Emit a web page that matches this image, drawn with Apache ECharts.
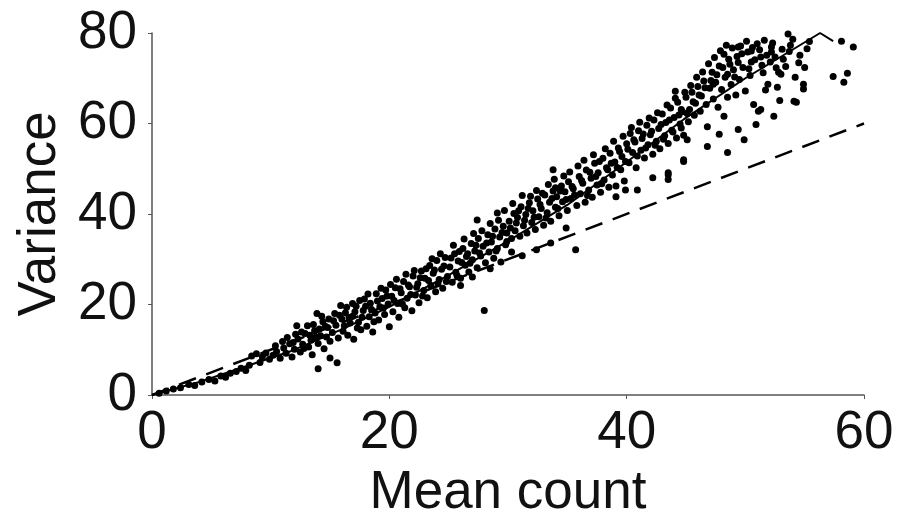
<!DOCTYPE html>
<html>
<head>
<meta charset="utf-8">
<script src="https://cdn.jsdelivr.net/npm/echarts@6/dist/echarts.min.js"></script>
<style>
  html, body { margin: 0; padding: 0; background: #fff; }
  #chart { width: 911px; height: 523px; }
</style>
</head>
<body>
<div id="chart"></div>
<script>
// axis ticks
var xTicks = [0, 20, 40, 60];
var yTicks = [0, 20, 40, 60, 80];

// scatter: [mean count, variance]
var lowPts = [
  [0.6,0.4],[1.2,0.9],[1.8,1.3],[2.4,1.6],[3.1,2.3],[3.6,2.1],[4.2,2.9],[4.8,3.4],[5.3,3.1],
  [5.8,4.2],[6.2,3.9],[6.6,4.8],[7.1,5.2],[7.5,5.9],[7.9,5.4],[8.2,6.6],[8.4,8.6],[8.8,9.1],
  [9.1,7.2],[9.3,8.4],[9.6,9.3],[9.9,7.9],[10.2,8.8],
  [10.5,9.6],[10.8,8.1],[11.1,10.4],[11.3,9.2],[11.6,11.3],[11.8,8.4],[12.0,10.1],[12.2,15.3],
  [12.3,12.4],[12.5,9.5],[12.7,11.2],[12.9,13.6],[13.1,15.3],[13.2,10.6],[13.4,12.1],[13.5,8.9],
  [13.7,14.2],[13.9,18.0],[14.0,11.4],[14.0,5.8],[14.2,13.1],[14.4,16.2],[14.5,10.2],[14.7,12.8],
  [14.8,14.9],[15.0,8.2],[15.0,11.9],[15.4,18.0],[15.6,7.1],[15.9,19.8]
];
var midPts = [
  [15.2,13.8],[15.5,15.4],[15.7,12.6],[16.0,16.8],[16.1,14.1],[16.3,18.2],[16.5,13.2],[16.7,15.9],
  [16.9,17.4],[17.0,12.3],[17.2,19.6],[17.4,16.1],[17.6,14.4],[17.8,18.7],[17.9,21.2],[18.1,15.2],
  [18.3,17.3],[18.4,20.3],[18.6,13.9],[18.8,18.1],[18.9,22.4],[19.1,16.6],[19.2,19.5],[19.4,21.3],
  [19.6,17.8],[19.7,23.2],[19.9,20.1],[20.0,15.1],
  [20.2,21.8],[20.3,18.4],[20.5,23.7],[20.7,20.2],[20.8,17.2],[21.0,22.6],[21.2,25.1],[21.3,19.3],
  [21.5,21.4],[21.7,23.9],[21.9,18.6],[22.0,26.3],[22.2,22.1],[22.4,24.6],[22.5,20.4],[22.7,27.4],
  [22.9,23.1],[23.0,25.8],[23.2,21.5],[23.4,28.6],[23.5,24.2],[23.7,26.9],[23.9,22.8],[24.0,29.7],
  [24.2,25.5],[24.4,27.8],[24.5,23.6],[24.7,30.4],[24.9,26.2],
  [25.1,28.3],[25.3,24.9],[25.5,31.2],[25.6,27.1],[25.8,29.6],[26.0,25.8],[26.2,32.4],[26.4,28.7],
  [26.5,30.6],[26.7,27.2],[26.9,33.5],[27.0,29.9],[27.2,31.8],[27.4,28.1],[27.5,34.6],[27.7,30.7],
  [27.9,32.9],[28.0,18.7],[28.1,29.2],[28.3,35.4],[28.4,31.6],[28.6,33.8],[28.8,30.2],[28.9,36.7],
  [29.1,32.4],[29.3,34.9],[29.4,29.4],[29.6,37.3],[29.8,33.2],[29.9,35.8],
  [26.0,24.2],[27.0,26.1],[28.5,27.9],[30.3,31.6],[31.2,30.8],[32.4,32.1],[33.6,33.6],[27.4,38.7],[29.1,40.2]
];
var upperPts = [
  [30.1,38.4],[30.3,34.6],[30.5,40.1],[30.6,36.3],[30.8,39.2],[31.0,35.1],[31.1,41.6],[31.3,37.4],
  [31.5,39.9],[31.6,35.8],[31.8,42.5],[32.0,38.1],[32.1,40.7],[32.3,36.6],[32.5,43.3],[32.6,39.4],
  [32.8,41.2],[33.0,37.5],[33.1,44.2],[33.3,40.3],[33.5,42.6],[33.6,38.4],[33.8,45.1],[34.0,41.5],
  [34.1,43.8],[34.3,39.6],[34.5,46.2],[34.6,42.7],[34.8,44.9],[35.0,40.8],
  [35.1,47.1],[35.3,43.4],[35.5,45.6],[35.7,32.1],[35.8,41.9],[36.0,48.3],[36.1,44.5],[36.3,46.8],
  [36.5,42.6],[36.6,49.7],[36.8,45.3],[37.0,47.9],[37.1,43.7],[37.3,51.2],[37.5,46.4],[37.6,49.1],
  [37.8,44.8],[38.0,52.3],[38.1,47.5],[38.3,50.2],[38.5,45.9],[38.6,53.4],[38.8,48.6],[39.0,51.5],
  [39.1,46.2],[39.3,54.6],[39.5,49.8],[39.6,52.7],[39.8,47.3],[40.0,55.5],
  [33.8,49.8],[34.0,45.8],[34.9,36.9],[39.1,43.8],[39.9,45.3],[40.9,45.3],[42.2,48.0],[43.5,48.7],
  [43.5,47.6],[44.8,51.6],
  [40.2,51.3],[40.3,57.8],[40.5,53.6],[40.7,55.9],[40.8,50.2],[41.0,58.4],[41.2,54.1],[41.3,56.7],
  [41.5,52.4],[41.7,59.6],[41.8,55.3],[42.0,57.5],[42.2,53.2],[42.3,60.8],[42.5,56.1],[42.7,58.9],
  [42.8,54.4],[43.0,62.1],[43.2,57.3],[43.3,60.2],[43.5,55.6],[43.7,63.4],[43.8,58.5],[44.0,61.3],
  [44.2,56.8],[44.3,64.7],[44.5,59.9],[44.7,62.6],[44.8,57.4],[45.0,65.8],
  [44.1,67.1],[44.6,63.1],[45.1,56.4],[44.8,52.0],[43.5,49.1]
];
var topPts = [
  [45.2,60.4],[45.3,63.1],[45.5,66.9],[45.7,61.8],[45.8,64.5],[46.0,68.2],[46.2,62.7],[46.3,66.1],
  [46.5,69.4],[46.7,64.2],[46.8,59.3],[47.0,67.8],[47.2,71.3],[47.3,65.4],[47.5,69.1],[47.7,63.6],
  [47.8,72.7],[48.0,67.5],[48.2,75.3],[48.3,70.2],[48.5,65.8],[48.7,73.1],[48.8,68.6],[49.0,71.9],
  [49.2,66.3],[49.3,74.8],[49.5,69.7],[49.6,77.1],[49.8,72.4],[50.0,67.2],
  [46.8,54.9],[47.8,57.6],[48.5,53.6],[48.2,61.6],[49.4,58.7],[49.9,56.4],[48.5,70.9],[47.3,68.7],
  [49.4,76.9],[50.5,76.0],
  [50.2,75.8],[50.4,70.6],[50.5,73.6],[50.7,64.2],[50.9,59.8],[51.0,77.6],[51.1,62.7],[51.3,74.7],
  [51.3,63.1],[51.5,71.2],[51.7,67.4],[51.9,68.7],[52.2,75.8],[52.2,76.9],[52.4,61.6],[52.6,72.3],
  [52.7,68.0],[52.9,65.1],[53.0,70.9],[53.2,74.2],[53.6,79.8],[53.8,77.3],[54.1,64.9],[54.3,64.7],
  [54.5,73.4],[54.9,68.7],[54.9,67.6],[55.2,76.5],
  [57.4,70.4],[58.1,78.2],[58.3,69.1],[58.6,71.1],[59.1,76.9]
];
// dense core of the band
var corePts = [
  [10.4,10.9],[11.0,11.8],[11.4,12.7],[11.9,11.6],[12.1,13.4],[12.6,13.9],[12.8,10.3],[13.3,13.2],
  [13.6,15.6],[13.8,12.8],[14.1,14.6],[14.3,17.4],[14.6,15.2],[14.9,16.8],[15.3,16.4],[15.8,17.6],
  [16.2,15.3],[16.4,19.4],[16.6,17.1],[16.9,20.2],[17.1,18.4],[17.3,14.8],[17.5,20.9],[17.7,17.2],
  [18.0,19.6],[18.2,22.3],[18.5,18.9],[18.7,16.2],[19.0,20.8],[19.3,23.6],[19.5,19.2],[19.8,21.9],
  [20.1,24.4],[20.4,20.9],[20.6,25.6],[20.9,23.5],[21.1,20.1],[21.4,26.7],[21.6,24.3],[21.8,22.2],
  [22.1,27.5],[22.3,23.8],[22.6,25.9],[22.8,21.9],[23.1,27.9],[23.3,25.3],[23.6,30.1],[23.8,27.6],
  [24.1,24.6],[24.3,31.2],[24.6,28.5],[24.8,25.1],[25.2,30.3],[25.4,33.1],[25.7,26.4],[25.9,31.7],
  [26.1,29.3],[26.3,34.5],[26.6,31.2],[26.8,29.1],[27.1,35.7],[27.3,33.1],[27.6,31.4],[27.8,36.3],
  [28.2,33.6],[28.5,37.9],[28.7,35.1],[29.0,31.8],[29.2,38.6],[29.5,35.9],[29.7,40.8],[29.9,33.9],
  [30.2,36.9],[30.4,42.3],[30.7,38.0],[30.9,40.7],[31.2,44.1],[31.4,38.6],[31.7,41.2],[31.9,43.9],
  [32.2,39.3],[32.4,45.2],[32.7,42.1],[32.9,44.6],[33.2,39.1],[33.4,46.5],[33.7,43.4],[33.9,47.7],
  [34.2,41.2],[34.4,45.1],[34.7,48.4],[34.9,43.2],[35.2,49.3],[35.4,46.1],[35.6,44.2],[35.9,50.6],
  [36.2,47.4],[36.4,51.9],[36.7,44.1],[36.9,49.2],[37.2,53.1],[37.4,48.3],[37.7,51.6],[37.9,46.7],
  [38.2,54.4],[38.4,49.8],[38.7,51.2],[38.9,56.1],[39.2,50.3],[39.4,53.8],[39.7,57.2],[39.9,51.6],
  [40.1,54.3],[40.4,59.1],[40.6,56.4],[40.9,52.8],[41.1,60.3],[41.4,57.7],[41.6,54.6],[41.9,61.2],
  [42.1,58.3],[42.4,55.2],[42.6,62.4],[42.9,59.8],[43.1,56.5],[43.4,64.1],[43.6,60.8],[43.9,58.1],
  [44.1,65.6],[44.4,61.9],[44.6,59.0],[44.9,66.9],[45.1,62.2],[45.4,68.4],[45.6,64.8],[45.9,70.2],
  [46.1,66.3],[46.4,71.4],[46.6,67.9],[46.9,73.2],[47.1,69.5],[47.4,74.6],[47.6,70.8],[47.9,76.1],
  [48.1,72.4],[48.4,77.3],[48.6,74.2],[48.9,76.7],[49.1,70.3],[49.4,73.5],[49.7,75.4],
  [50.1,78.2],[50.3,72.1],[50.6,76.8],[50.8,74.1],[51.2,76.3],[51.4,72.9],[51.6,78.4],[51.8,75.1],
  [52.1,73.6],[52.3,77.8],[52.5,74.7],[52.8,71.3],[53.1,76.4],[53.4,72.6],[53.7,75.9],[54.0,78.6],
  [54.2,70.2],[54.6,75.1],[55.0,72.4],[55.4,78.1]
];

// fitted curve (solid) and unity line (dashed)
var fitLine = [[0,0],[4,2.9],[8,6.4],[11.6,9.6],[16,14.5],[20,19.5],[25,26.5],[30,34],
  [35,42],[40,51.5],[44.8,60.9],[50,70],[56.3,80],[57.4,78.2]];
var unityLine = [[0,0],[60,60]];

var scatterData = lowPts.concat(midPts, upperPts, topPts, corePts);

var chart = echarts.init(document.getElementById("chart"));
var font = "'Liberation Sans', Arial, sans-serif";
var option = {
  animation: false,
  grid: { left: 152, right: 47, top: 33, bottom: 128, outerBoundsMode: "none" },
  xAxis: {
    type: "value", min: 0, max: 60, interval: 20,
    name: "Mean count", nameLocation: "middle", nameGap: 72,
    nameTextStyle: { fontSize: 53, color: "#111", fontFamily: font },
    axisLine: { lineStyle: { color: "#555", width: 1.5 } },
    axisTick: { show: true, length: 4, lineStyle: { color: "#555" } },
    axisLabel: { fontSize: 53, color: "#111", fontFamily: font, margin: 12,
      formatter: function (v) { return xTicks.indexOf(v) >= 0 ? String(v) : ""; } },
    splitLine: { show: false }
  },
  yAxis: {
    type: "value", min: 0, max: 80, interval: 20,
    name: "Variance", nameLocation: "middle", nameGap: 77,
    nameTextStyle: { fontSize: 53, color: "#111", fontFamily: font },
    axisLine: { show: true, lineStyle: { color: "#555", width: 1.5 } },
    axisTick: { show: true, length: 4, lineStyle: { color: "#555" } },
    axisLabel: { fontSize: 53, color: "#111", fontFamily: font, margin: 15,
      formatter: function (v) { return yTicks.indexOf(v) >= 0 ? String(v) : ""; } },
    splitLine: { show: false }
  },
  series: [
    {
      type: "scatter", data: scatterData, symbol: "circle", symbolSize: 7,
      itemStyle: { color: "#000", opacity: 1 }, z: 2
    },
    {
      type: "line", data: fitLine, showSymbol: false,
      lineStyle: { color: "#000", width: 2 }, z: 3
    },
    {
      type: "line", data: unityLine, showSymbol: false,
      lineStyle: { color: "#000", width: 2.5, type: [18, 11] }, z: 3
    }
  ]
};
chart.setOption(option);
</script>
</body>
</html>
